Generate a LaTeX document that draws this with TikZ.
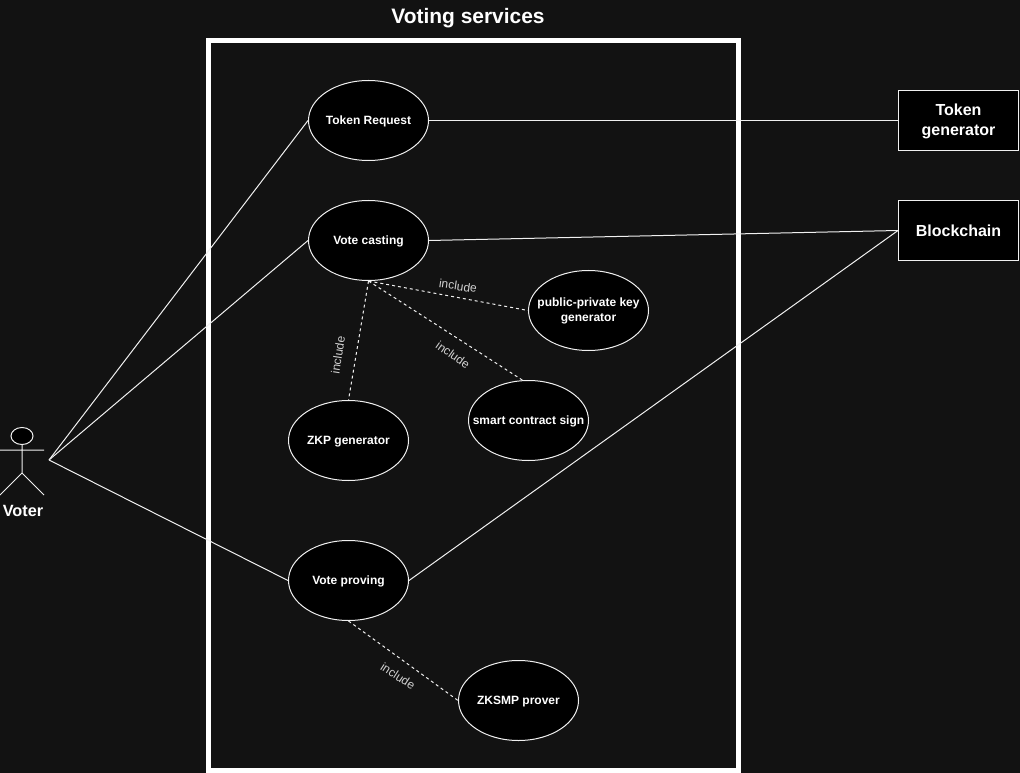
\documentclass[tikz,border=0pt]{standalone}
\usepackage{fontspec}
\setmainfont{Liberation Sans}
\usetikzlibrary{shapes.geometric}
\definecolor{bgc}{HTML}{121212}
\definecolor{linec}{HTML}{F0F0F0}
\definecolor{labelc}{HTML}{D0D0D0}
\newcommand{\lowtxt}[1]{\raisebox{-2.7pt}[0pt][0pt]{\makebox[0pt]{#1}}}
\newcommand{\lowbox}[1]{\raisebox{-3.75pt}[0pt][0pt]{\makebox[0pt]{#1}}}
\tikzset{
  usecase/.style={ellipse,draw=linec,fill=black,line width=0.75pt,inner sep=0pt,minimum width=90pt,minimum height=60pt,text=white,font=\bfseries\fontsize{9}{11.25}\selectfont,align=center},
  sysbox/.style={rectangle,draw=linec,fill=black,line width=0.75pt,inner sep=0pt,minimum width=90pt,minimum height=45pt,text=white,font=\bfseries\fontsize{12}{15}\selectfont,align=center},
  link/.style={draw=linec,line width=0.75pt},
  inc/.style={draw=linec,line width=0.75pt,dash pattern=on 2.25pt off 2.25pt},
  inclabel/.style={text=labelc,font=\fontsize{9}{11}\selectfont,inner sep=0pt},
  title/.style={text=white,font=\bfseries\fontsize{15.7}{18}\selectfont,inner sep=0pt},
  actorline/.style={draw=linec,line width=0.75pt}
}
\begin{document}
\begin{tikzpicture}[x=0.75pt,y=-0.75pt]
\useasboundingbox (0,0) rectangle (1020,773);
\fill[bgc] (0,0) rectangle (1020,773);
\node[title] (ttl) at (468,18.5) {Voting services};
\node[draw=white,line width=3.75pt,minimum width=397.5pt,minimum height=547.5pt,inner sep=0pt] (sys) at (473.5,405.5) {};
% actor
\node[ellipse,draw=linec,fill=black,line width=0.75pt,minimum width=16.5pt,minimum height=12.75pt,inner sep=0pt] (head) at (22,436) {};
\coordinate (hip) at (22,473);
\coordinate (armL) at (0,450);
\coordinate (armR) at (44,450);
\coordinate (legL) at (0,495);
\coordinate (legR) at (44,495);
\draw[actorline] (head.south) -- (hip) (armL) -- (armR) (legL) -- (hip) -- (legR);
\node[text=white,font=\bfseries\fontsize{12.2}{15}\selectfont,inner sep=0pt] (voter) at (23,511) {Voter};
\coordinate (vp) at (49,460);
% use cases
\node[usecase] (tr) at (368.5,120.5) {\lowtxt{Token Request}};
\node[usecase] (vc) at (368.5,240.5) {\lowtxt{Vote casting}};
\node[usecase] (pk) at (588.5,310.5) {\lowtxt{public-private key}\\\lowtxt{generator}};
\node[usecase] (sc) at (528.5,420.5) {\lowtxt{smart contract sign}};
\node[usecase] (zk) at (348.5,440.5) {\lowtxt{ZKP generator}};
\node[usecase] (vpr) at (348.5,580.5) {\lowtxt{Vote proving}};
\node[usecase] (zs) at (518.5,700.5) {\lowtxt{ZKSMP prover}};
\node[sysbox] (tg) at (958.5,120.5) {\lowbox{Token}\\\lowbox{generator}};
\node[sysbox] (bc) at (958.5,230.5) {\makebox[0pt]{Blockchain}};
% connectors
\draw[link] (vp) -- (tr.west);
\draw[link] (vp) -- (vc.west);
\draw[link] (vp) -- (vpr.west);
\draw[link] (tr.east) -- (tg.west);
\draw[link] (vc.east) -- (bc.west);
\draw[link] (vpr.east) -- (bc.west);
\coordinate (scend) at (523,380.5);
\draw[inc] (vc.south) -- (pk.west);
\draw[inc] (vc.south) -- (scend);
\draw[inc] (vc.south) -- (zk.north);
\draw[inc] (vpr.south) -- (zs.west);
\node[inclabel,rotate=-8] (l1) at (458,286) {include};
\node[inclabel,rotate=-35] (l2) at (453,355) {include};
\node[inclabel,rotate=81] (l3) at (338,355) {include};
\node[inclabel,rotate=-33] (l4) at (398,676) {include};
\end{tikzpicture}
\end{document}
